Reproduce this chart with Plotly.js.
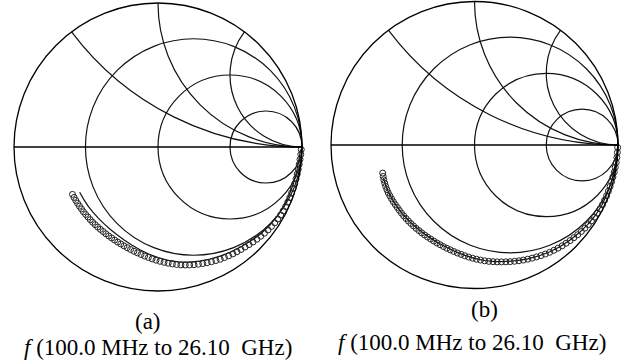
<!DOCTYPE html>
<html>
<head>
<meta charset="utf-8">
<script src="https://cdn.plot.ly/plotly-3.0.1.min.js"></script>
<style>html,body{margin:0;padding:0;background:#fff;}#chart{width:633px;height:364px;}</style>
</head>
<body>
<div id="chart"></div>
<script>
// S11 magnitude / phase (deg)
// (a) measured points
const phaseA = [-1,-3,-5,-7,-9,-11,-13,-15,-17,-19,-21,-23,-25,-27,-29,-31,-33,-35,-37,-39,-41,-43,-45,-47,-49,-51,-53,-55,-57,-59,-61,-63,-65,-67,-69,-71,-73,-75,-77,-79,-81,-83,-85,-87,-89,-91,-93,-95,-97,-99,-101,-103,-105,-107,-109,-111,-113,-115,-117,-119,-121,-123,-125,-127,-129,-131,-133,-135,-137,-139,-141,-143,-145,-147,-149,-151];
const magA = [0.995,0.993,0.99,0.988,0.986,0.985,0.984,0.983,0.982,0.981,0.98,0.979,0.978,0.976,0.974,0.971,0.967,0.962,0.957,0.951,0.945,0.939,0.933,0.927,0.921,0.916,0.911,0.906,0.901,0.896,0.891,0.885,0.879,0.873,0.867,0.861,0.855,0.848,0.841,0.834,0.826,0.818,0.81,0.802,0.794,0.786,0.778,0.77,0.763,0.756,0.749,0.743,0.737,0.731,0.726,0.721,0.717,0.713,0.709,0.706,0.703,0.7,0.698,0.696,0.694,0.692,0.69,0.688,0.687,0.686,0.684,0.683,0.682,0.681,0.68,0.679];
// (a) simulated curve
const phaseLineA = [-1,-5,-10,-15,-20,-25,-30,-35,-40,-45,-50,-55,-60,-65,-70,-75,-80,-85,-90,-95,-100,-105,-110,-115,-120,-125,-130,-135,-140,-145,-150];
const magLineA = [0.99,0.983,0.978,0.974,0.97,0.965,0.958,0.947,0.935,0.918,0.902,0.888,0.873,0.858,0.843,0.827,0.81,0.79,0.768,0.746,0.724,0.704,0.687,0.673,0.661,0.652,0.645,0.639,0.635,0.631,0.628];
// (b) measured points
const phaseB = [-1,-3,-5,-7,-9,-11,-13,-15,-17,-19,-21,-23,-25,-27,-29,-31,-33,-35,-37,-39,-41,-43,-45,-47,-49,-51,-53,-55,-57,-59,-61,-63,-65,-67,-69,-71,-73,-75,-77,-79,-81,-83,-85,-87,-89,-91,-93,-95,-97,-99,-101,-103,-105,-107,-109,-111,-113,-115,-117,-119,-121,-123,-125,-127,-129,-131,-133,-135,-137,-139,-141,-143,-145,-147,-149,-151,-153,-155,-157,-159,-161,-163];
const magB = [0.998,0.997,0.996,0.995,0.993,0.992,0.99,0.989,0.988,0.987,0.986,0.985,0.984,0.982,0.979,0.976,0.972,0.968,0.963,0.958,0.953,0.947,0.942,0.936,0.931,0.925,0.919,0.913,0.906,0.899,0.892,0.885,0.878,0.871,0.864,0.857,0.85,0.843,0.836,0.83,0.823,0.817,0.81,0.803,0.796,0.789,0.782,0.775,0.768,0.762,0.756,0.75,0.745,0.74,0.735,0.731,0.727,0.723,0.72,0.717,0.714,0.711,0.709,0.706,0.704,0.702,0.7,0.698,0.696,0.694,0.692,0.691,0.69,0.689,0.688,0.687,0.685,0.683,0.68,0.677,0.673,0.669];
// (b) simulated curve
const phaseLineB = [-1,-5,-10,-15,-20,-25,-30,-35,-40,-45,-50,-55,-60,-65,-70,-75,-80,-85,-90,-95,-100,-105,-110,-115,-120,-125,-130,-135,-140,-145,-150,-155,-160];
const magLineB = [0.996,0.994,0.99,0.987,0.985,0.982,0.975,0.964,0.952,0.939,0.925,0.91,0.893,0.876,0.858,0.84,0.825,0.808,0.79,0.772,0.755,0.74,0.728,0.718,0.71,0.704,0.699,0.695,0.691,0.688,0.685,0.681,0.675];

const captionA = "(a)";
const captionB = "(b)";
const freqText = "<i>f</i> (100.0 MHz to 26.10\u00a0 GHz)";

// convert reflection coefficient to normalized impedance
function toZ(mag, ph) {
  const re = [], im = [];
  for (let i = 0; i < mag.length; i++) {
    const t = ph[i] * Math.PI / 180;
    const a = mag[i] * Math.cos(t), b = mag[i] * Math.sin(t);
    const d = (1 - a) * (1 - a) + b * b;
    re.push((1 - a * a - b * b) / d);
    im.push(2 * b / d);
  }
  return {re, im};
}
const zA = toZ(magA, phaseA), zLA = toZ(magLineA, phaseLineA);
const zB = toZ(magB, phaseB), zLB = toZ(magLineB, phaseLineB);

const markerStyle = {symbol: 'circle-open', size: 6, color: '#222', line: {width: 1, color: '#222'}};
const traces = [
  {type: 'scattersmith', subplot: 'smith', real: zLA.re, imag: zLA.im, mode: 'lines', line: {color: '#111', width: 1.2}, hoverinfo: 'skip'},
  {type: 'scattersmith', subplot: 'smith', real: zA.re, imag: zA.im, mode: 'markers', marker: markerStyle},
  {type: 'scattersmith', subplot: 'smith2', real: zLB.re, imag: zLB.im, mode: 'lines', line: {color: '#111', width: 1.2}, hoverinfo: 'skip'},
  {type: 'scattersmith', subplot: 'smith2', real: zB.re, imag: zB.im, mode: 'markers', marker: markerStyle}
];

const realTicks = [0.33, 1, 3];
const imagTicks = [0.5, 1, 2];
function smithAxis(dx, dy) {
  return {
    domain: {x: dx, y: dy},
    bgcolor: '#fff',
    realaxis: {tickvals: realTicks, showticklabels: false, ticks: '', gridcolor: '#111', gridwidth: 1.2, linecolor: '#000', linewidth: 1.3, showline: true},
    imaginaryaxis: {tickvals: imagTicks, showticklabels: false, ticks: '', gridcolor: '#111', gridwidth: 1.2, linecolor: '#000', linewidth: 1.3, showline: true}
  };
}

const W = 633, H = 364;
const font = {family: 'Liberation Serif, Times New Roman, serif', size: 23, color: '#000'};
const layout = {
  width: W, height: H,
  margin: {l: 0, r: 0, t: 0, b: 0},
  paper_bgcolor: '#fff',
  showlegend: false,
  smith: smithAxis([14 / W, 302 / W], [1 - 291 / H, 1 - 3 / H]),
  smith2: smithAxis([331 / W, 618 / W], [1 - 288.5 / H, 1 - 1.5 / H]),
  annotations: [
    {text: captionA, x: 148 / W, y: 1 - 321 / H, xref: 'paper', yref: 'paper', xanchor: 'center', yanchor: 'middle', showarrow: false, font: font},
    {text: freqText, x: 158 / W, y: 1 - 347 / H, xref: 'paper', yref: 'paper', xanchor: 'center', yanchor: 'middle', showarrow: false, font: font},
    {text: captionB, x: 484 / W, y: 1 - 309 / H, xref: 'paper', yref: 'paper', xanchor: 'center', yanchor: 'middle', showarrow: false, font: font},
    {text: freqText, x: 472 / W, y: 1 - 342 / H, xref: 'paper', yref: 'paper', xanchor: 'center', yanchor: 'middle', showarrow: false, font: font}
  ]
};
Plotly.newPlot('chart', traces, layout, {displayModeBar: false, staticPlot: true});
</script>
</body>
</html>
